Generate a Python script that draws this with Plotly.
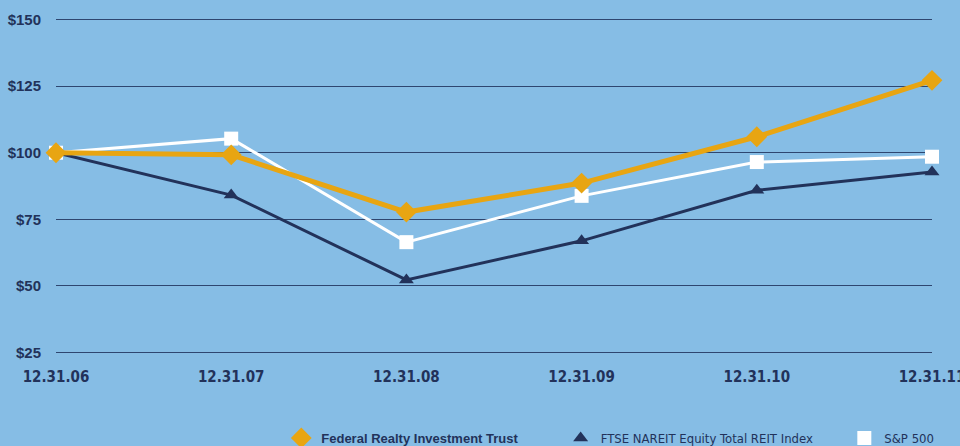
import plotly.graph_objects as go

dates = ["12.31.06", "12.31.07", "12.31.08", "12.31.09", "12.31.10", "12.31.11"]
frt = [100, 99.2, 77.7, 88.6, 106.0, 127.2]
nareit = [100, 84.1, 52.2, 66.9, 85.9, 92.8]
sp500 = [100, 105.3, 66.4, 83.8, 96.5, 98.5]
y_ticks = [25, 50, 75, 100, 125, 150]
y_labels = ["$25", "$50", "$75", "$100", "$125", "$150"]

BG = "#86bde5"
NAVY = "#22325a"
ORANGE = "#e8a512"
WHITE = "#ffffff"
COND = "DejaVu Sans Condensed, Liberation Sans, Arial"

xs = list(range(len(dates)))

fig = go.Figure()
fig.add_trace(go.Scatter(x=xs, y=nareit, mode="lines+markers", showlegend=False, cliponaxis=False,
                         line=dict(color=NAVY, width=3),
                         marker=dict(symbol="triangle-up", size=13, color=NAVY)))
fig.add_trace(go.Scatter(x=xs, y=sp500, mode="lines+markers", showlegend=False, cliponaxis=False,
                         line=dict(color=WHITE, width=3),
                         marker=dict(symbol="square", size=14, color=WHITE)))
fig.add_trace(go.Scatter(x=xs, y=frt, mode="lines+markers", showlegend=False, cliponaxis=False,
                         line=dict(color=ORANGE, width=5),
                         marker=dict(symbol="diamond", size=16, color=ORANGE)))

# legend-only entries (markers only), each in its own legend for exact placement
fig.add_trace(go.Scatter(x=[None], y=[None], mode="markers", legend="legend",
                         name="<b>Federal Realty Investment Trust</b>",
                         marker=dict(symbol="diamond", size=16, color=ORANGE)))
fig.add_trace(go.Scatter(x=[None], y=[None], mode="markers", legend="legend2",
                         name="FTSE NAREIT Equity Total REIT Index",
                         marker=dict(symbol="triangle-up", size=13, color=NAVY)))
fig.add_trace(go.Scatter(x=[None], y=[None], mode="markers", legend="legend3",
                         name="S&P 500",
                         marker=dict(symbol="square", size=14, color=WHITE)))

leg_common = dict(orientation="h", xref="container", yref="container", yanchor="middle", y=0.018,
                  xanchor="left", bgcolor="rgba(0,0,0,0)", borderwidth=0)

fig.update_layout(
    width=960, height=446,
    paper_bgcolor=BG, plot_bgcolor=BG,
    margin=dict(l=56, r=28, t=17, b=91, autoexpand=False),
    font=dict(family="Liberation Sans, Arial", color=NAVY, size=13),
    xaxis=dict(range=[0, 5], tickmode="array", tickvals=xs, ticktext=dates,
               showgrid=False, zeroline=False, showline=False, ticks="",
               ticklabeloverflow="allow",
               tickfont=dict(size=15, family=COND, weight="bold", color=NAVY),
               ticklabelstandoff=11, fixedrange=True),
    yaxis=dict(range=[24, 151], tickmode="array", tickvals=y_ticks, ticktext=y_labels,
               showgrid=True, gridcolor="#2e4670", gridwidth=1, zeroline=False, showline=False,
               ticks="", ticklabelstandoff=14,
               tickfont=dict(size=15, family="Liberation Sans, Arial", weight="bold", color=NAVY)),
    legend=dict(**leg_common, x=0.293, font=dict(size=13, color=NAVY, family="Liberation Sans, Arial")),
    legend2=dict(**leg_common, x=0.584, font=dict(size=13, color=NAVY, family=COND)),
    legend3=dict(**leg_common, x=0.8795, font=dict(size=13, color=NAVY, family=COND)),
    showlegend=True,
)

fig.write_html("out.html", config={"displayModeBar": False},
               post_script="document.body.style.margin='0px';")
